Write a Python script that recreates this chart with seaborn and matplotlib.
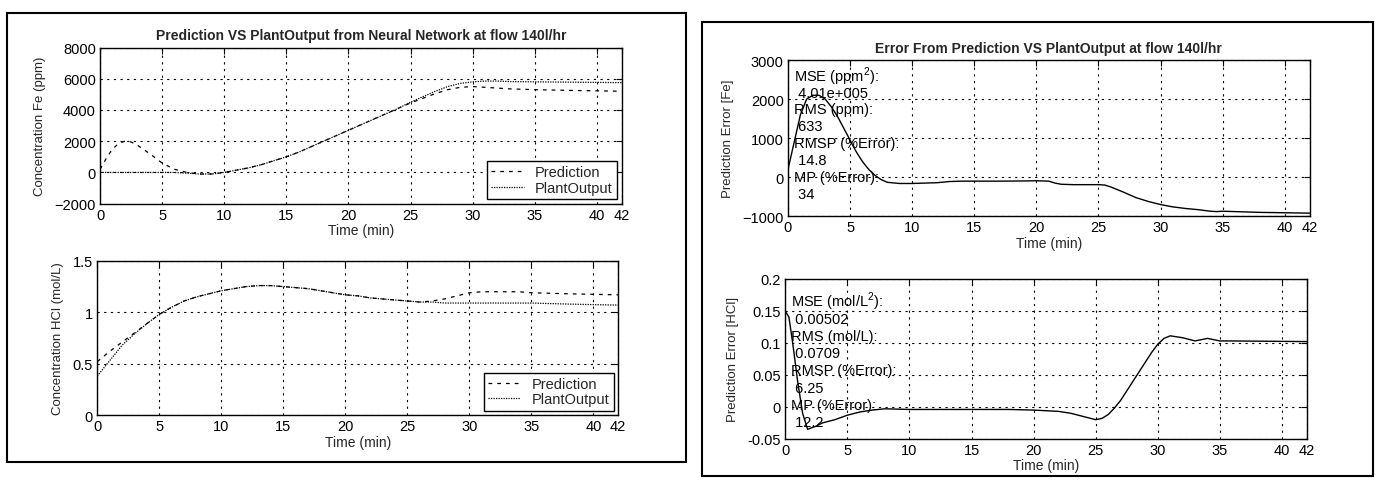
import matplotlib
matplotlib.use("Agg")
import matplotlib.pyplot as plt
import seaborn as sns
import pandas as pd
from matplotlib.patches import Rectangle

# ---------------- data ----------------
t_fe = [0, 0.5, 1, 1.5, 2, 2.5, 3, 4, 5, 6, 7, 8, 9, 10, 11, 12, 13, 14, 15, 16, 17, 18, 19, 20,
        21, 22, 23, 24, 25, 26, 27, 28, 29, 30, 31, 32, 33, 35, 38, 42]
fe_pred = [200, 900, 1500, 1850, 2000, 1950, 1750, 1200, 600, 200, 0, -100, -100, 0, 150, 300, 500,
           750, 1000, 1300, 1650, 2000, 2350, 2700, 3050, 3400, 3750, 4100, 4450, 4750, 5050, 5300,
           5450, 5500, 5450, 5400, 5350, 5300, 5250, 5200]
fe_plant = [0, 0, 0, 0, 0, 0, 0, 0, 0, 0, -50, -100, -100, 0, 150, 300, 500, 750, 1000, 1300, 1650,
            2000, 2350, 2700, 3050, 3400, 3750, 4100, 4500, 4850, 5200, 5500, 5700, 5800, 5850, 5850,
            5820, 5800, 5780, 5750]

t_hcl = [0, 1, 2, 3, 4, 5, 6, 7, 8, 9, 10, 11, 12, 13, 14, 15, 16, 17, 18, 19, 20, 21, 22, 23, 24,
         25, 26, 27, 28, 29, 30, 31, 32, 33, 34, 35, 38, 42]
hcl_pred = [0.52, 0.62, 0.71, 0.80, 0.89, 0.98, 1.05, 1.11, 1.15, 1.18, 1.21, 1.23, 1.25, 1.26, 1.26,
            1.25, 1.24, 1.23, 1.21, 1.19, 1.17, 1.16, 1.14, 1.13, 1.12, 1.11, 1.10, 1.11, 1.13, 1.16,
            1.19, 1.20, 1.20, 1.20, 1.20, 1.19, 1.18, 1.17]
hcl_plant = [0.38, 0.53, 0.68, 0.79, 0.89, 0.98, 1.05, 1.11, 1.15, 1.18, 1.21, 1.23, 1.25, 1.26, 1.26,
             1.25, 1.24, 1.23, 1.21, 1.19, 1.17, 1.16, 1.14, 1.13, 1.12, 1.11, 1.10, 1.10, 1.09, 1.09,
             1.09, 1.09, 1.09, 1.09, 1.09, 1.09, 1.08, 1.07]

t_err_fe = [0, 0.5, 1, 1.5, 2, 2.5, 3, 3.5, 4, 4.5, 5, 5.5, 6, 6.5, 7, 7.5, 8, 9, 10, 11, 12, 13, 14,
            15, 17, 19, 20, 21, 21.5, 22, 23, 24, 25, 25.5, 26, 27, 28, 29, 30, 31, 32, 33, 34, 34.5,
            35, 36, 38, 42]
err_fe = [200, 900, 1600, 2000, 2100, 2100, 2000, 1800, 1550, 1250, 950, 650, 400, 200, 50, -60, -130,
          -160, -160, -150, -140, -110, -100, -100, -100, -95, -90, -100, -150, -180, -190, -190, -190,
          -200, -250, -380, -520, -620, -700, -760, -800, -830, -870, -880, -870, -880, -900, -920]

t_err_hcl = [0, 0.3, 0.6, 1, 1.4, 1.8, 2.5, 3, 4, 5, 6, 7, 8, 10, 12, 15, 18, 20, 21, 22, 23, 24, 25,
             25.5, 26, 26.5, 27, 27.5, 28, 28.5, 29, 29.5, 30, 30.5, 31, 32, 33, 34, 35, 36, 42]
err_hcl = [0.15, 0.14, 0.10, 0.04, -0.01, -0.035, -0.03, -0.025, -0.02, -0.013, -0.008, -0.005, -0.003,
           -0.004, -0.004, -0.004, -0.004, -0.005, -0.006, -0.007, -0.01, -0.015, -0.02, -0.018, -0.012,
           -0.002, 0.01, 0.025, 0.04, 0.055, 0.07, 0.085, 0.098, 0.107, 0.111, 0.108, 0.103, 0.107,
           0.103, 0.103, 0.102]

x_ticks = [0, 5, 10, 15, 20, 25, 30, 35, 40, 42]
fe_ticks = [-2000, 0, 2000, 4000, 6000, 8000]
hcl_ticks = [0, 0.5, 1, 1.5]
hcl_tick_labels = ["0", "0.5", "1", "1.5"]
err_fe_ticks = [-1000, 0, 1000, 2000, 3000]
err_hcl_ticks = [-0.05, 0, 0.05, 0.1, 0.15, 0.2]
err_hcl_tick_labels = ["-0.05", "0", "0.05", "0.1", "0.15", "0.2"]

stats_fe = ["MSE (ppm$^2$):", " 4.01e+005", "RMS (ppm):", " 633", "RMSP (%Error):", " 14.8",
            "MP (%Error):", " 34"]
stats_hcl = ["MSE (mol/L$^2$):", " 0.00502", "RMS (mol/L):", " 0.0709", "RMSP (%Error):", " 6.25",
             "MP (%Error):", " 12.2"]

title_left = "Prediction VS PlantOutput from Neural Network at flow 140l/hr"
title_right = "Error From Prediction VS PlantOutput at flow 140l/hr"

# ---------------- style ----------------
sns.set_style("white")
plt.rcParams["font.family"] = ["Liberation Sans", "DejaVu Sans"]
plt.rcParams["mathtext.fontset"] = "custom"
plt.rcParams["mathtext.rm"] = "Liberation Sans"

fig = plt.figure(figsize=(13.8, 4.85), dpi=100)
fig.patch.set_facecolor("white")

ax_tl = fig.add_axes([0.0725, 0.578, 0.378, 0.322])
ax_bl = fig.add_axes([0.0705, 0.142, 0.3775, 0.318])
ax_tr = fig.add_axes([0.571, 0.552, 0.378, 0.322])
ax_br = fig.add_axes([0.569, 0.093, 0.378, 0.330])

# panel frames
fig.patches.append(Rectangle((7 / 1380, 1 - 463 / 485), 679 / 1380, 449 / 485,
                             transform=fig.transFigure, fill=False, edgecolor="black", lw=1.5))
fig.patches.append(Rectangle((702 / 1380, 1 - 477 / 485), 671 / 1380, 454 / 485,
                             transform=fig.transFigure, fill=False, edgecolor="black", lw=1.5))

pred_ls = (0, (3, 4))
plant_ls = (0, (1, 1))


def style_axes(ax, yticks, ylabels, ylim, ylabel):
    ax.set_xlim(0, 42)
    ax.set_ylim(*ylim)
    ax.set_xticks(x_ticks)
    ax.set_xticklabels([str(v) for v in x_ticks])
    ax.set_yticks(yticks)
    if ylabels is not None:
        ax.set_yticklabels(ylabels)
    ax.tick_params(direction="in", length=4, width=0.8, top=True, right=True,
                   labelsize=10.5, colors="black", pad=3)
    ax.grid(True, color="black", linestyle=(0, (2, 4)), linewidth=0.8)
    for s in ax.spines.values():
        s.set_visible(True)
        s.set_color("black")
        s.set_linewidth(1.0)
    ax.set_xlabel("Time (min)", fontsize=10, labelpad=1)
    ax.set_ylabel(ylabel, fontsize=9.5, labelpad=6)


# top-left: Fe concentration
df_fe = pd.DataFrame({"t": t_fe, "Prediction": fe_pred, "PlantOutput": fe_plant})
sns.lineplot(data=df_fe, x="t", y="Prediction", ax=ax_tl, color="black", lw=0.9,
             linestyle=pred_ls, label="Prediction")
sns.lineplot(data=df_fe, x="t", y="PlantOutput", ax=ax_tl, color="black", lw=0.9,
             linestyle=plant_ls, label="PlantOutput")
style_axes(ax_tl, fe_ticks, None, (-2000, 8000), "Concentration Fe (ppm)")
ax_tl.set_title(title_left, fontsize=10, fontweight="bold", pad=6)

# bottom-left: HCl concentration
df_hcl = pd.DataFrame({"t": t_hcl, "Prediction": hcl_pred, "PlantOutput": hcl_plant})
sns.lineplot(data=df_hcl, x="t", y="Prediction", ax=ax_bl, color="black", lw=0.9,
             linestyle=pred_ls, label="Prediction")
sns.lineplot(data=df_hcl, x="t", y="PlantOutput", ax=ax_bl, color="black", lw=0.9,
             linestyle=plant_ls, label="PlantOutput")
style_axes(ax_bl, hcl_ticks, hcl_tick_labels, (0, 1.5), "Concentration HCl (mol/L)")

for ax in (ax_tl, ax_bl):
    leg = ax.legend(loc="lower right", fontsize=10.5, frameon=True, fancybox=False,
                    edgecolor="black", framealpha=1, borderaxespad=0.3, handlelength=2.2,
                    labelspacing=0.1, borderpad=0.3)
    leg.get_frame().set_linewidth(1.0)

# top-right: Fe error
df_efe = pd.DataFrame({"t": t_err_fe, "err": err_fe})
sns.lineplot(data=df_efe, x="t", y="err", ax=ax_tr, color="black", lw=1.0)
style_axes(ax_tr, err_fe_ticks, None, (-1000, 3000), "Prediction Error [Fe]")
ax_tr.set_title(title_right, fontsize=10, fontweight="bold", pad=6)

# bottom-right: HCl error
df_ehcl = pd.DataFrame({"t": t_err_hcl, "err": err_hcl})
sns.lineplot(data=df_ehcl, x="t", y="err", ax=ax_br, color="black", lw=1.0)
style_axes(ax_br, err_hcl_ticks, err_hcl_tick_labels, (-0.05, 0.2), "Prediction Error [HCl]")

for ax, lines, y0 in ((ax_tr, stats_fe, 0.90), (ax_br, stats_hcl, 0.86)):
    for i, s in enumerate(lines):
        ax.text(0.012, y0 - i * 0.108, s, transform=ax.transAxes, fontsize=10.5,
                ha="left", va="center", color="black")

fig.savefig("out.png", dpi=100, facecolor="white")
